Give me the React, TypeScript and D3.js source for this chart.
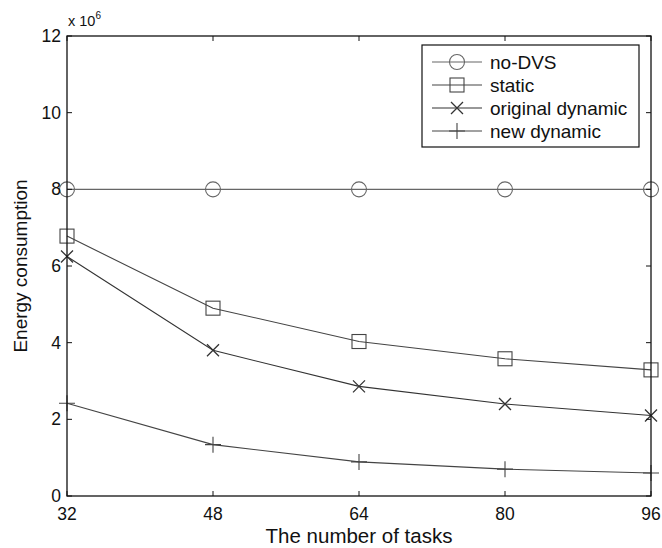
import React from "react";
import * as d3 from "d3";

const tasks = [32, 48, 64, 80, 96];
const noDvs = [8, 8, 8, 8, 8];
const staticE = [6.78, 4.9, 4.03, 3.58, 3.29];
const origDynamic = [6.25, 3.8, 2.86, 2.4, 2.1];
const newDynamic = [2.42, 1.34, 0.89, 0.7, 0.6];
const yTicks = [0, 2, 4, 6, 8, 10, 12];
const seriesNames = ["no-DVS", "static", "original dynamic", "new dynamic"];
const seriesMarkers = ["circle", "square", "x", "plus"];

const W = 662, H = 548;
const margin = { left: 67, right: 11, top: 36, bottom: 52 };

function Marker({ type, x, y, color }: { type: string; x: number; y: number; color: string }) {
  if (type === "circle") return <circle cx={x} cy={y} r={7.5} fill="none" stroke={color} strokeWidth={1.1} />;
  if (type === "square") return <rect x={x - 7} y={y - 7} width={14} height={14} fill="none" stroke={color} strokeWidth={1.1} />;
  if (type === "x") return <path d={`M${x - 6},${y - 6}L${x + 6},${y + 6}M${x - 6},${y + 6}L${x + 6},${y - 6}`} stroke={color} strokeWidth={1.3} />;
  return <path d={`M${x - 8},${y}L${x + 8},${y}M${x},${y - 8}L${x},${y + 8}`} stroke={color} strokeWidth={1.1} />;
}

export default function App() {
  const x = d3.scaleLinear().domain([32, 96]).range([margin.left, W - margin.right]);
  const y = d3.scaleLinear().domain([0, 12]).range([H - margin.bottom, margin.top]);
  const line = d3.line<number>().x((_, i) => x(tasks[i])).y(d => y(d));
  const all = [noDvs, staticE, origDynamic, newDynamic];
  const colors = ["#666", "#444", "#333", "#444"];
  const x0 = margin.left, x1 = W - margin.right, y0 = H - margin.bottom, y1 = margin.top;
  const font = "'Liberation Sans', Arial, sans-serif";
  const legend = { x: 422, y: 45, w: 217, h: 102 };

  return (
    <svg width={W} height={H} style={{ position: "absolute", left: 0, top: 0, background: "#fff" }} fontFamily={font}>
      <rect x={0} y={0} width={W} height={H} fill="#fff" />
      {all.map((s, k) => (
        <g key={k}>
          <path d={line(s) || ""} fill="none" stroke={colors[k]} strokeWidth={1.1} />
          {s.map((v, i) => <Marker key={i} type={seriesMarkers[k]} x={x(tasks[i])} y={y(v)} color={colors[k]} />)}
        </g>
      ))}
      <rect x={x0} y={y1} width={x1 - x0} height={y0 - y1} fill="none" stroke="#111" strokeWidth={1.3} />
      {yTicks.map(t => (
        <g key={t}>
          <line x1={x0} x2={x0 + 5} y1={y(t)} y2={y(t)} stroke="#111" />
          <line x1={x1} x2={x1 - 5} y1={y(t)} y2={y(t)} stroke="#111" />
          <text x={x0 - 6} y={y(t)} dy="0.35em" textAnchor="end" fontSize={17.5} fill="#111">{t}</text>
        </g>
      ))}
      {tasks.map(t => (
        <g key={t}>
          <line x1={x(t)} x2={x(t)} y1={y0} y2={y0 - 5} stroke="#111" />
          <line x1={x(t)} x2={x(t)} y1={y1} y2={y1 + 5} stroke="#111" />
          <text x={x(t)} y={y0 + 24} textAnchor="middle" fontSize={17.5} fill="#111">{t}</text>
        </g>
      ))}
      <text x={68} y={26} fontSize={14.5} fill="#111">x 10<tspan dy={-7} fontSize={10}>6</tspan></text>
      <text x={(x0 + x1) / 2} y={543} textAnchor="middle" fontSize={20.5} fill="#111">The number of tasks</text>
      <text transform={`translate(27,${(y0 + y1) / 2}) rotate(-90)`} textAnchor="middle" fontSize={19} fill="#111">Energy consumption</text>
      <rect x={legend.x} y={legend.y} width={legend.w} height={legend.h} fill="#fff" stroke="#111" strokeWidth={1.2} />
      {seriesNames.map((n, k) => {
        const ly = 62 + k * 23;
        return (
          <g key={n}>
            <line x1={432} x2={482} y1={ly} y2={ly} stroke={colors[k]} strokeWidth={1.1} />
            <Marker type={seriesMarkers[k]} x={457} y={ly} color={colors[k]} />
            <text x={490} y={ly} dy="0.36em" fontSize={19} fill="#111">{n}</text>
          </g>
        );
      })}
    </svg>
  );
}
